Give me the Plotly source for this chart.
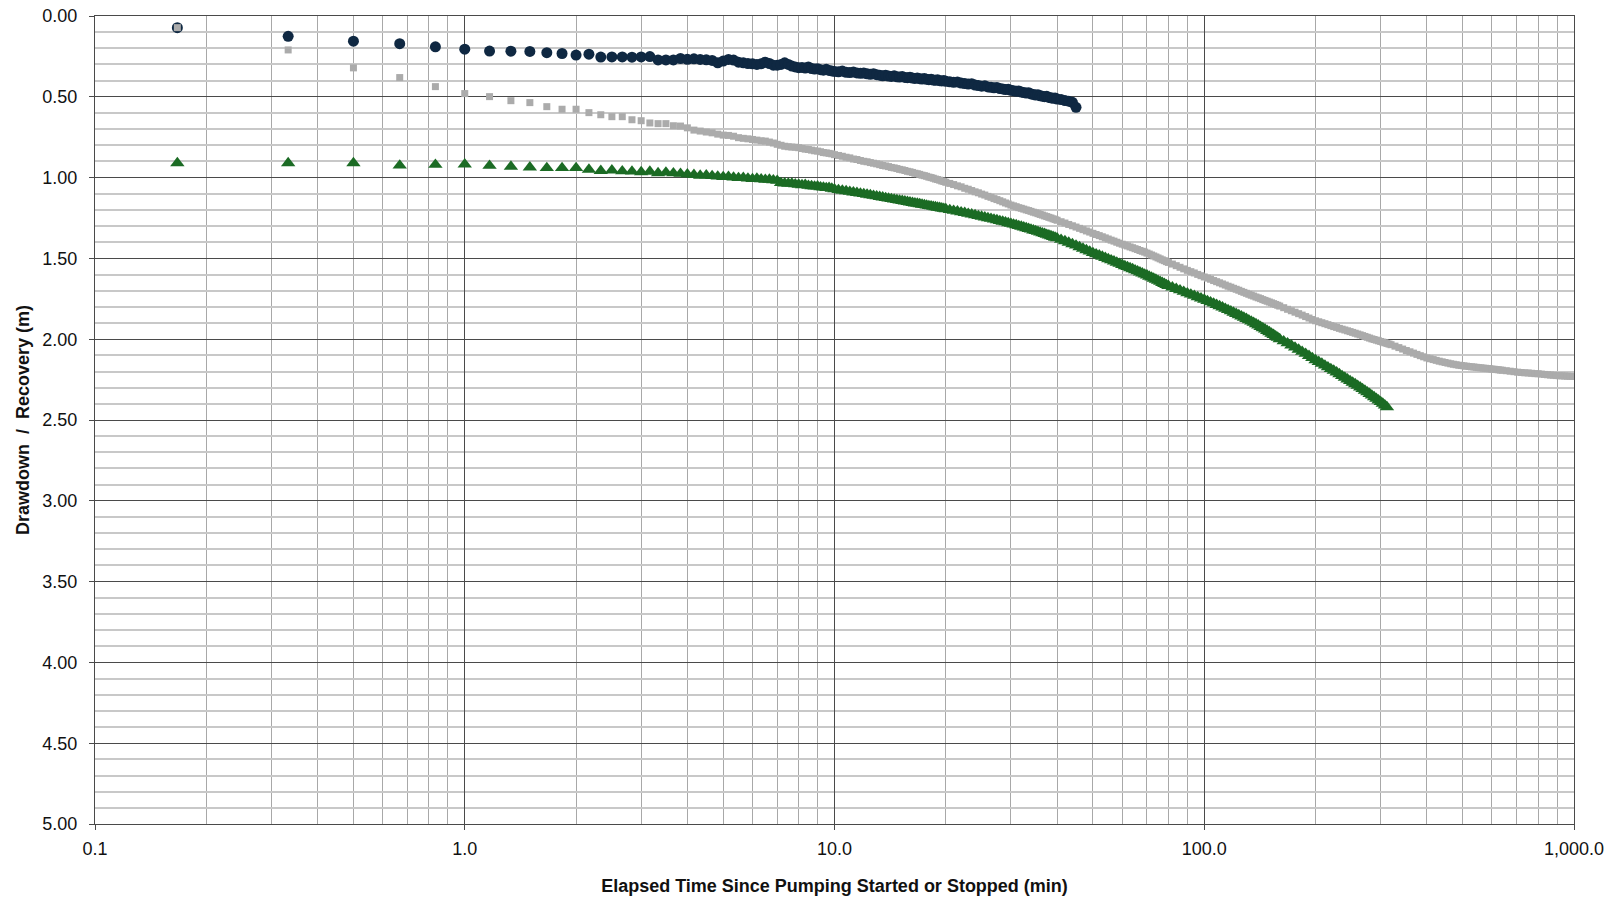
import plotly.graph_objects as go

# Elapsed time (min) at which readings are plotted
TIME_MIN = [
    0.167, 0.333, 0.5, 0.667, 0.833, 1.0, 1.167, 1.333, 1.5, 1.667, 1.833, 2.0,
    2.167, 2.333, 2.5, 2.667, 2.833, 3.0, 3.167, 3.333, 3.5, 3.667, 3.833, 4.0,
    4.167, 4.333, 4.5, 4.667, 4.833, 5.0, 5.167, 5.333, 5.5, 5.667, 5.833, 6.0,
    6.167, 6.333, 6.5, 6.667, 6.833, 7.0, 7.167, 7.333, 7.5, 7.667, 7.833, 8.0,
    8.167, 8.333, 8.5, 8.667, 8.833, 9.0, 9.167, 9.333, 9.5, 9.667, 9.833, 10.0,
    10.25, 10.5, 10.75, 11.0, 11.25, 11.5, 11.75, 12.0, 12.25, 12.5, 12.75, 13.0,
    13.25, 13.5, 13.75, 14.0, 14.25, 14.5, 14.75, 15.0, 15.25, 15.5, 15.75, 16.0,
    16.25, 16.5, 16.75, 17.0, 17.25, 17.5, 17.75, 18.0, 18.25, 18.5, 18.75, 19.0,
    19.25, 19.5, 19.75, 20.0,
    20.5, 21.0, 21.5, 22.0, 22.5, 23.0, 23.5, 24.0, 24.5, 25.0, 25.5, 26.0,
    26.5, 27.0, 27.5, 28.0, 28.5, 29.0, 29.5, 30.0, 30.5, 31.0, 31.5, 32.0,
    32.5, 33.0, 33.5, 34.0, 34.5, 35.0, 35.5, 36.0, 36.5, 37.0, 37.5, 38.0,
    38.5, 39.0, 39.5, 40.0,
    41, 42, 43, 44, 45, 46, 47, 48, 49, 50, 51, 52, 53, 54, 55, 56, 57, 58, 59, 60,
    61, 62, 63, 64, 65, 66, 67, 68, 69, 70, 71, 72, 73, 74, 75, 76, 77, 78, 79, 80,
    82, 84, 86, 88, 90, 92, 94, 96, 98, 100, 102, 104, 106, 108, 110, 112, 114, 116,
    118, 120, 122, 124, 126, 128, 130, 132, 134, 136, 138, 140, 142, 144, 146, 148,
    150, 152, 154, 156, 158, 160,
    164, 168, 172, 176, 180, 184, 188, 192, 196, 200, 204, 208, 212, 216, 220, 224,
    228, 232, 236, 240, 244, 248, 252, 256, 260, 264, 268, 272, 276, 280, 284, 288,
    292, 296, 300, 304, 308, 312, 316, 320,
    328, 336, 344, 352, 360, 368, 376, 384, 392, 400, 408, 416, 424, 432, 440, 448,
    456, 464, 472, 480, 488, 496, 504, 512, 520, 528, 536, 544, 552, 560, 568, 576,
    584, 592, 600, 608, 616, 624, 632, 640,
    656, 672, 688, 704, 720, 736, 752, 768, 784, 800, 816, 832, 848, 864, 880, 896,
    912, 928, 944, 960, 976, 992,
]

# Series 1 (navy circles), drawdown/recovery in m
NAVY_M = [
    0.072, 0.126, 0.156, 0.171, 0.191, 0.205, 0.217, 0.218, 0.219, 0.227, 0.232, 0.242,
    0.236, 0.254, 0.253, 0.253, 0.255, 0.253, 0.251, 0.272, 0.272, 0.272, 0.263, 0.268,
    0.265, 0.269, 0.271, 0.275, 0.290, 0.279, 0.269, 0.273, 0.286, 0.290, 0.294, 0.296,
    0.300, 0.296, 0.286, 0.294, 0.304, 0.304, 0.300, 0.290, 0.300, 0.310, 0.315, 0.320,
    0.318, 0.322, 0.315, 0.325, 0.328, 0.326, 0.332, 0.335, 0.330, 0.337, 0.340, 0.343,
    0.345, 0.341, 0.348, 0.350, 0.347, 0.352, 0.355, 0.353, 0.358, 0.361, 0.357, 0.363,
    0.366, 0.370, 0.367, 0.372, 0.374, 0.370, 0.376, 0.378, 0.375, 0.380, 0.382, 0.379,
    0.384, 0.386, 0.383, 0.388, 0.390, 0.387, 0.392, 0.394, 0.391, 0.396, 0.398, 0.395,
    0.400, 0.402, 0.399, 0.404,
    0.407, 0.410, 0.408, 0.415, 0.418, 0.421, 0.419, 0.427, 0.430, 0.434, 0.432, 0.439,
    0.441, 0.444, 0.442, 0.449, 0.451, 0.455, 0.453, 0.460, 0.462, 0.466, 0.464, 0.471,
    0.474, 0.477, 0.475, 0.482, 0.485, 0.489, 0.487, 0.494, 0.496, 0.499, 0.497, 0.504,
    0.506, 0.509, 0.507, 0.514,
    0.517, 0.523, 0.527, 0.534, 0.565,
]

# Series 2 (grey squares)
GREY_M = [
    0.072, 0.210, 0.321, 0.381, 0.437, 0.480, 0.499, 0.524, 0.536, 0.561, 0.577, 0.577,
    0.598, 0.611, 0.623, 0.623, 0.642, 0.648, 0.662, 0.666, 0.666, 0.679, 0.681, 0.692,
    0.706, 0.712, 0.718, 0.723, 0.731, 0.737, 0.739, 0.744, 0.753, 0.757, 0.760, 0.764,
    0.768, 0.772, 0.774, 0.780, 0.786, 0.794, 0.800, 0.806, 0.809, 0.811, 0.812, 0.815,
    0.820, 0.824, 0.826, 0.830, 0.834, 0.836, 0.840, 0.845, 0.847, 0.850, 0.853, 0.858,
    0.863, 0.868, 0.874, 0.878, 0.885, 0.888, 0.894, 0.899, 0.902, 0.907, 0.911, 0.915,
    0.920, 0.925, 0.928, 0.932, 0.937, 0.940, 0.944, 0.949, 0.952, 0.956, 0.961, 0.964,
    0.968, 0.973, 0.976, 0.980, 0.985, 0.988, 0.992, 0.997, 1.000, 1.004, 1.009, 1.012,
    1.016, 1.021, 1.024, 1.029,
    1.036, 1.043, 1.051, 1.057, 1.066, 1.072, 1.080, 1.088, 1.094, 1.102, 1.108, 1.116,
    1.122, 1.130, 1.136, 1.143, 1.150, 1.157, 1.163, 1.170, 1.175, 1.180, 1.186, 1.190,
    1.195, 1.200, 1.204, 1.209, 1.214, 1.218, 1.223, 1.228, 1.232, 1.237, 1.241, 1.246,
    1.250, 1.255, 1.259, 1.264,
    1.273, 1.281, 1.290, 1.298, 1.306, 1.314, 1.322, 1.330, 1.337, 1.345, 1.352, 1.359,
    1.366, 1.373, 1.380, 1.387, 1.393, 1.400, 1.406, 1.412, 1.418, 1.423, 1.429, 1.434,
    1.440, 1.445, 1.451, 1.456, 1.461, 1.467, 1.473, 1.479, 1.485, 1.491, 1.497, 1.503,
    1.509, 1.514, 1.520, 1.525,
    1.535, 1.545, 1.555, 1.565, 1.574, 1.582, 1.590, 1.599, 1.607, 1.615, 1.622, 1.629,
    1.637, 1.644, 1.651, 1.658, 1.665, 1.672, 1.678, 1.685, 1.691, 1.697, 1.704, 1.710,
    1.716, 1.722, 1.728, 1.733, 1.739, 1.744, 1.749, 1.755, 1.760, 1.765, 1.770, 1.775,
    1.780, 1.785, 1.790, 1.795,
    1.805, 1.815, 1.824, 1.833, 1.842, 1.851, 1.860, 1.869, 1.878, 1.886, 1.892, 1.898,
    1.904, 1.910, 1.916, 1.922, 1.927, 1.933, 1.938, 1.943, 1.948, 1.953, 1.958, 1.963,
    1.968, 1.973, 1.978, 1.983, 1.988, 1.993, 1.998, 2.002, 2.006, 2.010, 2.014, 2.018,
    2.022, 2.026, 2.030, 2.034,
    2.043, 2.052, 2.061, 2.070, 2.078, 2.086, 2.094, 2.102, 2.109, 2.116, 2.121, 2.126,
    2.131, 2.136, 2.140, 2.144, 2.148, 2.152, 2.155, 2.158, 2.161, 2.163, 2.165, 2.167,
    2.169, 2.171, 2.172, 2.174, 2.176, 2.177, 2.179, 2.180, 2.182, 2.183, 2.185, 2.186,
    2.188, 2.189, 2.191, 2.192,
    2.195, 2.198, 2.201, 2.204, 2.206, 2.208, 2.209, 2.211, 2.213, 2.214, 2.216, 2.218,
    2.220, 2.222, 2.223, 2.225, 2.226, 2.227, 2.228, 2.229, 2.230, 2.231,
]

# Series 3 (green triangles)
GREEN_M = [
    0.910, 0.910, 0.910, 0.925, 0.920, 0.918, 0.926, 0.932, 0.936, 0.940, 0.940, 0.940,
    0.950, 0.958, 0.955, 0.960, 0.962, 0.966, 0.963, 0.972, 0.968, 0.973, 0.976, 0.980,
    0.983, 0.987, 0.986, 0.990, 0.993, 0.996, 0.995, 0.999, 1.002, 1.001, 1.005, 1.008,
    1.006, 1.010, 1.013, 1.012, 1.016, 1.019, 1.033, 1.035, 1.037, 1.036, 1.041, 1.043,
    1.046, 1.045, 1.050, 1.052, 1.055, 1.054, 1.059, 1.061, 1.064, 1.063, 1.068, 1.072,
    1.076, 1.080, 1.083, 1.087, 1.091, 1.094, 1.098, 1.101, 1.105, 1.108, 1.112, 1.115,
    1.119, 1.122, 1.126, 1.129, 1.132, 1.135, 1.138, 1.141, 1.144, 1.147, 1.150, 1.153,
    1.156, 1.159, 1.161, 1.164, 1.167, 1.169, 1.172, 1.175, 1.177, 1.180, 1.182, 1.185,
    1.187, 1.190, 1.192, 1.195,
    1.200, 1.205, 1.209, 1.214, 1.218, 1.223, 1.227, 1.232, 1.237, 1.241, 1.246, 1.250,
    1.254, 1.259, 1.263, 1.268, 1.272, 1.276, 1.281, 1.285, 1.290, 1.294, 1.299, 1.303,
    1.308, 1.312, 1.317, 1.321, 1.326, 1.330, 1.335, 1.339, 1.344, 1.348, 1.353, 1.357,
    1.362, 1.366, 1.371, 1.375,
    1.384, 1.393, 1.402, 1.411, 1.420, 1.430, 1.439, 1.448, 1.457, 1.466, 1.474, 1.481,
    1.489, 1.496, 1.504, 1.511, 1.518, 1.526, 1.533, 1.540, 1.547, 1.553, 1.560, 1.566,
    1.573, 1.579, 1.586, 1.592, 1.599, 1.605, 1.612, 1.618, 1.625, 1.631, 1.638, 1.644,
    1.651, 1.657, 1.664, 1.670,
    1.679, 1.688, 1.697, 1.706, 1.715, 1.723, 1.731, 1.739, 1.747, 1.755, 1.763, 1.771,
    1.779, 1.787, 1.795, 1.803, 1.811, 1.819, 1.827, 1.835, 1.843, 1.851, 1.858, 1.866,
    1.874, 1.882, 1.890, 1.898, 1.906, 1.914, 1.923, 1.931, 1.939, 1.948, 1.956, 1.965,
    1.973, 1.982, 1.990, 1.999,
    2.012, 2.025, 2.038, 2.051, 2.064, 2.077, 2.090, 2.103, 2.116, 2.129, 2.140, 2.151,
    2.162, 2.173, 2.184, 2.194, 2.205, 2.216, 2.227, 2.237, 2.248, 2.258, 2.268, 2.278,
    2.288, 2.298, 2.308, 2.318, 2.328, 2.338, 2.348, 2.358, 2.368, 2.378, 2.388, 2.398,
    2.409, 2.420,
]

X_TICK_VALS = [0.1, 1, 10, 100, 1000]
X_TICK_TEXT = ["0.1", "1.0", "10.0", "100.0", "1,000.0"]

NAVY = "#0F2842"
GREY = "#ABABAB"
GREEN = "#1B6B24"
FONT = "Liberation Sans, Arial, sans-serif"

fig = go.Figure()
fig.add_trace(go.Scatter(x=TIME_MIN[:len(NAVY_M)], y=NAVY_M, mode="markers",
                         marker=dict(symbol="circle", size=11, color=NAVY, line=dict(width=0))))
fig.add_trace(go.Scatter(x=TIME_MIN[:len(GREY_M)], y=GREY_M, mode="markers",
                         marker=dict(symbol="square", size=7, color=GREY, line=dict(width=0))))
fig.add_trace(go.Scatter(x=TIME_MIN[:len(GREEN_M)], y=GREEN_M, mode="markers",
                         marker=dict(symbol="triangle-up", size=12.5, color=GREEN, line=dict(width=0))))

fig.update_layout(
    width=1611, height=900,
    margin=dict(l=95, r=37, t=16, b=76),
    paper_bgcolor="white", plot_bgcolor="white",
    showlegend=False,
    font=dict(family=FONT, size=18, color="#111111"),
)
fig.update_xaxes(
    type="log", range=[-1, 3], automargin=False,
    tickmode="array", tickvals=X_TICK_VALS, ticktext=X_TICK_TEXT,
    showgrid=True, gridcolor="#4A4A4A", gridwidth=1,
    minor=dict(dtick="D1", showgrid=True, gridcolor="#A8A8A8", gridwidth=1, ticks=""),
    showline=True, linecolor="#4A4A4A", linewidth=1, mirror=True,
    ticks="outside", ticklen=5, tickcolor="#4A4A4A",
    zeroline=False,
    ticklabelstandoff=3,
    title=dict(text="Elapsed Time Since Pumping Started or Stopped (min)",
               font=dict(family=FONT, size=18, weight="bold", color="#111111"), standoff=21),
)
fig.update_yaxes(
    range=[5, 0], tick0=0, dtick=0.5, tickformat=".2f", automargin=False,
    showgrid=True, gridcolor="#4A4A4A", gridwidth=1,
    minor=dict(tick0=0, dtick=0.1, showgrid=True, gridcolor="#C8C8C8", gridwidth=2, ticks=""),
    showline=True, linecolor="#4A4A4A", linewidth=1, mirror=True,
    ticks="outside", ticklen=5, tickcolor="#4A4A4A",
    zeroline=False,
    ticklabelstandoff=8,
    title=dict(text="Drawdown\u00a0 /\u00a0 Recovery (m)",
               font=dict(family=FONT, size=18, weight="bold", color="#111111"), standoff=8),
)

fig.write_html("out.html", include_plotlyjs=True, config={"displayModeBar": False},
               post_script="document.body.style.margin='0';document.body.style.overflow='hidden';")
